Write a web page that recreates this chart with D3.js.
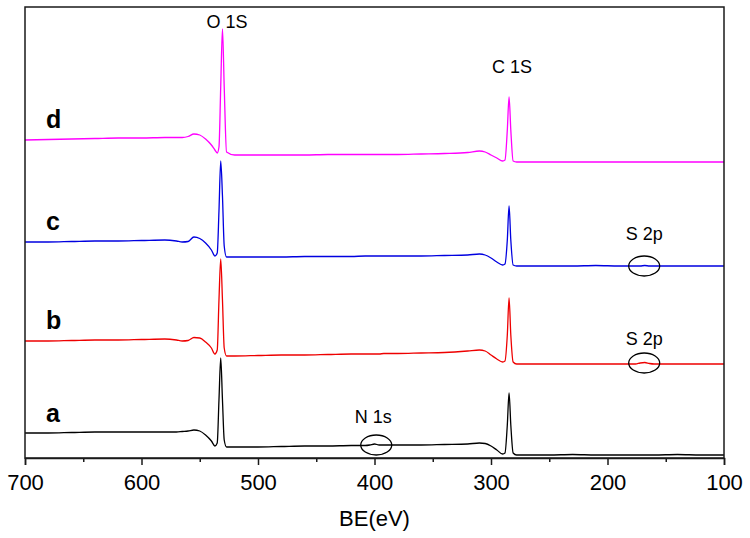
<!DOCTYPE html>
<html>
<head>
<meta charset="utf-8">
<script src="https://cdn.jsdelivr.net/npm/d3@7"></script>
<style>
  body { margin: 0; background: #fff; }
  svg text { font-family: Arial, "Liberation Sans", sans-serif; }
</style>
</head>
<body>
<script>
// binding energies (eV), shared by all four spectra
var energies = [700, 680, 660, 640, 620, 600, 580, 570, 565, 560,
                555, 550, 545, 540, 537, 535, 533.5, 532, 530.5, 529,
                527, 520, 500, 480, 460, 440, 420, 408, 404, 400,
                396, 392, 380, 360, 340, 320, 310, 305, 300, 295,
                290, 288, 286, 284.5, 283, 281, 278, 270, 250, 230,
                210, 190, 176, 172, 168, 164, 160, 140, 120, 100];

// intensities (a.u.), each relative to its own baseline
var seriesA = [22, 22, 22.5, 23, 23, 23, 23, 23, 23.5, 24,
               25, 24, 20, 14, 9, 12, 55, 97, 55, 15,
               8, 8, 8, 8.5, 9, 9, 9.5, 9.5, 10, 11,
               10, 10, 10, 10, 10.5, 11, 12, 11.5, 9, 5,
               1, 2, 30, 62, 30, 2, 0, 0, 0, 0.5,
               0, 0, 0, 0, 0, 0, 0, 0.5, 0, 0];
var seriesB = [23, 23, 23.5, 24, 24, 24.5, 25, 24, 23, 23.5,
               26.5, 26, 22, 16, 10, 14, 64, 105, 64, 16,
               8, 8, 8.5, 9, 9, 9.5, 10, 10, 10, 10,
               10, 10.5, 10.5, 11, 11.5, 13, 14, 13, 9, 5,
               2, 3, 29, 66, 29, 2, 0, 0, 0, 0,
               0, 0, 0, 1, 1.5, 0.5, 0, 0, 0, 0];
var seriesC = [24, 24, 24.5, 25, 25, 25.5, 26, 25, 24, 24.5,
               29, 27.5, 23, 16, 10, 13, 55, 105, 70, 20,
               9, 9, 9, 9, 9.5, 9.5, 9.5, 10, 10, 10,
               10, 10, 10, 10, 10.5, 11, 12, 11, 8, 4,
               1, 2, 26, 60, 26, 1, 0, 0, 0, 0,
               0.5, 0, 0, 0, 0.5, 0, 0, 0, 0, 0];
var seriesD = [22, 22.5, 23, 23.5, 24, 24, 24.5, 24.5, 24.5, 25.5,
               28, 27, 23, 17, 12, 9, 15, 75, 133, 75,
               10, 7, 7, 7, 7, 7.5, 7.5, 7.5, 7.5, 7.5,
               7.5, 7.5, 7.5, 8, 8.5, 9.5, 11, 10, 7, 4,
               1, 2, 32, 65, 32, 1, 0, 0, 0, 0,
               0, 0, 0, 0, 0, 0, 0, 0, 0, 0];

var seriesNames = ["a", "b", "c", "d"];
var seriesColors = ["#000000", "#ee0000", "#0000e0", "#ff00ff"];
var offsets = [3, 94, 192, 296];
var curveLabelY = [36, 129, 228, 330];
var curveLabelX = 682;

var xTicks = [700, 600, 500, 400, 300, 200, 100];
var xMinorTicks = [650, 550, 450, 350, 250, 150];

// peak annotations: [text, BE, intensity]
var peakLabels = [["O 1S", 526.5, 430], ["C 1S", 282, 385], ["N 1s", 401, 35],
                  ["S 2p", 168.5, 218], ["S 2p", 168.5, 113]];
// circled regions: [BE, intensity]
var circles = [[398.5, 13], [168.5, 192], [168.5, 95]];

var width = 750, height = 538;
var margin = {top: 7, right: 26, bottom: 80, left: 25};

var svg = d3.select("body").append("svg")
    .attr("width", width)
    .attr("height", height);

var x = d3.scaleLinear()
    .domain([700, 100])
    .range([margin.left, width - margin.right]);

var y = d3.scaleLinear()
    .domain([0, 451])
    .range([height - margin.bottom, margin.top]);

var line = d3.line()
    .x(function(d) { return x(d[0]); })
    .y(function(d) { return y(d[1]); })
    .curve(d3.curveMonotoneX);

var allSeries = [seriesA, seriesB, seriesC, seriesD];

allSeries.forEach(function(vals, i) {
    var pts = energies.map(function(e, j) { return [e, vals[j] + offsets[i]]; });
    svg.append("path")
        .datum(pts)
        .attr("fill", "none")
        .attr("stroke", seriesColors[i])
        .attr("stroke-width", 1.3)
        .attr("stroke-linejoin", "round")
        .attr("d", line);

    svg.append("text")
        .attr("x", x(curveLabelX))
        .attr("y", y(curveLabelY[i]))
        .style("font-size", "25px")
        .style("font-weight", "bold")
        .text(seriesNames[i]);
});

// frame
svg.append("rect")
    .attr("x", x(700))
    .attr("y", y(451))
    .attr("width", x(100) - x(700))
    .attr("height", y(0) - y(451))
    .attr("fill", "none")
    .attr("stroke", "#1a1a1a")
    .attr("stroke-width", 1.5);

// bottom axis
var xAxis = svg.append("g")
    .attr("transform", "translate(0," + y(0) + ")")
    .call(d3.axisBottom(x).tickValues(xTicks).tickSize(7).tickPadding(9).tickFormat(d3.format("d")));
xAxis.select(".domain").attr("stroke", "#1a1a1a").attr("stroke-width", 1.5);
xAxis.selectAll(".tick line").attr("stroke", "#1a1a1a").attr("stroke-width", 1.5);
xAxis.selectAll(".tick text")
    .attr("fill", "#000")
    .style("font-size", "22px")
    .style("font-family", "Arial, 'Liberation Sans', sans-serif");

svg.append("g")
    .attr("transform", "translate(0," + y(0) + ")")
    .call(d3.axisBottom(x).tickValues(xMinorTicks).tickSize(4).tickFormat(""))
    .call(function(g) {
        g.select(".domain").remove();
        g.selectAll(".tick line").attr("stroke", "#1a1a1a").attr("stroke-width", 1.5);
    });

svg.append("text")
    .attr("x", (x(700) + x(100)) / 2)
    .attr("y", 526)
    .attr("text-anchor", "middle")
    .style("font-size", "22px")
    .text("BE(eV)");

peakLabels.forEach(function(p) {
    svg.append("text")
        .attr("x", x(p[1]))
        .attr("y", y(p[2]))
        .attr("text-anchor", "middle")
        .style("font-size", "18px")
        .text(p[0]);
});

circles.forEach(function(c) {
    svg.append("ellipse")
        .attr("cx", x(c[0]))
        .attr("cy", y(c[1]))
        .attr("rx", 15.5)
        .attr("ry", 10)
        .attr("fill", "none")
        .attr("stroke", "#000")
        .attr("stroke-width", 1.3);
});
</script>
</body>
</html>
